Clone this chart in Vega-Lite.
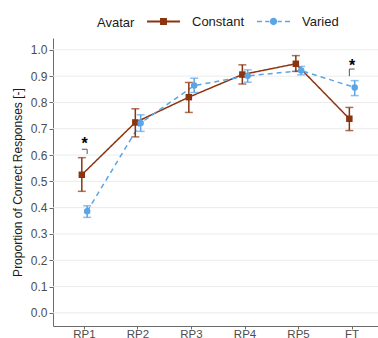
{
  "$schema": "https://vega.github.io/schema/vega-lite/v6.json",
  "autosize": "none",
  "width": 325,
  "height": 288,
  "padding": {"left": 53, "top": 38, "right": 0, "bottom": 12},
  "background": "white",
  "config": {
    "font": "Liberation Sans",
    "view": {"stroke": null},
    "axis": {"grid": false, "domainColor": "#6b6b6b", "tickColor": "#6b6b6b", "labelColor": "#4d4d4d", "labelFontSize": 12, "titleFontWeight": "normal", "titleColor": "#1a1a1a"},
    "legend": {"orient": "none", "legendY": -33, "direction": "horizontal", "titleOrient": "left", "titleFontSize": 13, "titleFontWeight": "normal", "titleColor": "#1a1a1a", "titlePadding": 12, "labelFontSize": 13, "labelColor": "#1a1a1a", "labelOffset": 12, "columnPadding": 12, "symbolSize": 1089, "symbolOpacity": 1, "symbolStrokeWidth": 0, "titleBaseline": "top", "titleAnchor": "middle"}
  },
  "datasets": {
    "main": [
      {"stage": "RP1", "series": "Constant", "mean": 0.525, "lo": 0.462, "hi": 0.59},
      {"stage": "RP2", "series": "Constant", "mean": 0.724, "lo": 0.669, "hi": 0.776},
      {"stage": "RP3", "series": "Constant", "mean": 0.82, "lo": 0.762, "hi": 0.876},
      {"stage": "RP4", "series": "Constant", "mean": 0.906, "lo": 0.87, "hi": 0.943},
      {"stage": "RP5", "series": "Constant", "mean": 0.947, "lo": 0.918, "hi": 0.978},
      {"stage": "FT", "series": "Constant", "mean": 0.738, "lo": 0.693, "hi": 0.781},
      {"stage": "RP1", "series": "Varied", "mean": 0.386, "lo": 0.363, "hi": 0.407},
      {"stage": "RP2", "series": "Varied", "mean": 0.722, "lo": 0.69, "hi": 0.753},
      {"stage": "RP3", "series": "Varied", "mean": 0.864, "lo": 0.838, "hi": 0.892},
      {"stage": "RP4", "series": "Varied", "mean": 0.901, "lo": 0.877, "hi": 0.924},
      {"stage": "RP5", "series": "Varied", "mean": 0.921, "lo": 0.905, "hi": 0.937},
      {"stage": "FT", "series": "Varied", "mean": 0.857, "lo": 0.826, "hi": 0.883}
    ],
    "stars": [
      {"stage": "RP1", "y": 0.652, "label": "*"},
      {"stage": "FT", "y": 0.95, "label": "*"}
    ],
    "brackets": [
      {"id": "b1", "stage": "RP1", "series": "Constant", "y": 0.622, "ord": 1},
      {"id": "b1", "stage": "RP1", "series": "Varied", "y": 0.622, "ord": 2},
      {"id": "b1", "stage": "RP1", "series": "Varied", "y": 0.604, "ord": 3},
      {"id": "b2", "stage": "FT", "series": "Constant", "y": 0.9, "ord": 1},
      {"id": "b2", "stage": "FT", "series": "Constant", "y": 0.927, "ord": 2},
      {"id": "b2", "stage": "FT", "series": "Varied", "y": 0.927, "ord": 3}
    ]
  },
  "encoding": {
    "y": {"type": "quantitative", "scale": {"domain": [-0.05, 1.045], "nice": false, "zero": false},
          "axis": {"title": "Proportion of Correct Responses [-]", "titleFontSize": 12, "values": [0, 0.1, 0.2, 0.3, 0.4, 0.5, 0.6, 0.7, 0.8, 0.9, 1.0], "format": ".1f", "tickSize": 4, "labelPadding": 2, "titlePadding": 6, "labelOverlap": false}}
  },
  "layer": [
    {
      "data": {"values": [{"v": 0}, {"v": 0.1}, {"v": 0.2}, {"v": 0.3}, {"v": 0.4}, {"v": 0.5}, {"v": 0.6}, {"v": 0.7}, {"v": 0.8}, {"v": 0.9}, {"v": 1.0}]},
      "mark": {"type": "rule", "color": "#ebebeb", "strokeWidth": 1},
      "encoding": {
        "y": {"field": "v", "type": "quantitative"}
      }
    },
    {
      "data": {"name": "main"},
      "mark": {"type": "line", "strokeWidth": 1.5},
      "encoding": {
        "x": {"field": "stage", "type": "nominal", "sort": ["RP1", "RP2", "RP3", "RP4", "RP5", "FT"],
              "scale": {"type": "band", "paddingInner": 0.8, "paddingOuter": 0.437, "align": 0.559},
              "axis": {"title": null, "labelAngle": 0, "tickSize": 3, "labelPadding": 8, "bandPosition": 0.5, "labelBaseline": "alphabetic", "labelFontSize": 11.5}},
        "xOffset": {"field": "series", "type": "nominal", "scale": {"type": "band", "domain": ["Constant", "Varied"], "paddingInner": 0, "paddingOuter": 0}},
        "y": {"field": "mean", "type": "quantitative"},
        "color": {"field": "series", "type": "nominal", "scale": {"domain": ["Constant", "Varied"], "range": ["#8b3510", "#5ba4e6"]}, "legend": null},
        "strokeDash": {"field": "series", "type": "nominal", "scale": {"domain": ["Constant", "Varied"], "range": [[1, 0], [5, 4]]}, "legend": null}
      }
    },
    {
      "data": {"name": "main"},
      "mark": {"type": "rule", "strokeWidth": 1.5},
      "encoding": {
        "x": {"field": "stage", "type": "nominal", "sort": ["RP1", "RP2", "RP3", "RP4", "RP5", "FT"]},
        "xOffset": {"field": "series", "type": "nominal"},
        "y": {"field": "lo", "type": "quantitative"},
        "y2": {"field": "hi"},
        "color": {"field": "series", "type": "nominal", "legend": null}
      }
    },
    {
      "data": {"name": "main"},
      "mark": {"type": "tick", "size": 8, "thickness": 1.5, "orient": "horizontal"},
      "encoding": {
        "x": {"field": "stage", "type": "nominal", "sort": ["RP1", "RP2", "RP3", "RP4", "RP5", "FT"]},
        "xOffset": {"field": "series", "type": "nominal"},
        "y": {"field": "lo", "type": "quantitative"},
        "color": {"field": "series", "type": "nominal", "legend": null}
      }
    },
    {
      "data": {"name": "main"},
      "mark": {"type": "tick", "size": 8, "thickness": 1.5, "orient": "horizontal"},
      "encoding": {
        "x": {"field": "stage", "type": "nominal", "sort": ["RP1", "RP2", "RP3", "RP4", "RP5", "FT"]},
        "xOffset": {"field": "series", "type": "nominal"},
        "y": {"field": "hi", "type": "quantitative"},
        "color": {"field": "series", "type": "nominal", "legend": null}
      }
    },
    {
      "data": {"name": "main"},
      "mark": {"type": "point", "filled": true, "opacity": 1, "size": 42},
      "encoding": {
        "x": {"field": "stage", "type": "nominal", "sort": ["RP1", "RP2", "RP3", "RP4", "RP5", "FT"]},
        "xOffset": {"field": "series", "type": "nominal"},
        "y": {"field": "mean", "type": "quantitative"},
        "color": {"field": "series", "type": "nominal", "legend": null},
        "shape": {"field": "series", "type": "nominal", "scale": {"domain": ["Constant", "Varied"], "range": ["square", "circle"]}, "legend": null}
      }
    },
    {
      "data": {"name": "brackets"},
      "mark": {"type": "line", "color": "#555555", "strokeWidth": 1},
      "encoding": {
        "x": {"field": "stage", "type": "nominal", "sort": ["RP1", "RP2", "RP3", "RP4", "RP5", "FT"]},
        "xOffset": {"field": "series", "type": "nominal"},
        "y": {"field": "y", "type": "quantitative"},
        "detail": {"field": "id"},
        "order": {"field": "ord"}
      }
    },
    {
      "data": {"name": "stars"},
      "mark": {"type": "text", "fontSize": 16, "fontWeight": "bold", "color": "#000000", "baseline": "middle", "dy": 3},
      "encoding": {
        "x": {"field": "stage", "type": "nominal", "sort": ["RP1", "RP2", "RP3", "RP4", "RP5", "FT"]},
        "y": {"field": "y", "type": "quantitative"},
        "text": {"field": "label"}
      }
    },
    {
      "data": {"name": "main"},
      "transform": [{"filter": "datum.series === 'Constant'"}],
      "mark": {"type": "point", "filled": true, "size": 0, "color": "#8b3510"},
      "encoding": {
        "x": {"field": "stage", "type": "nominal", "sort": ["RP1", "RP2", "RP3", "RP4", "RP5", "FT"]},
        "xOffset": {"field": "series", "type": "nominal"},
        "y": {"field": "mean", "type": "quantitative"},
        "shape": {"field": "series", "type": "nominal",
                  "scale": {"domain": ["Constant"], "range": [
                    "M-1,-0.06L1,-0.06L1,0.06L-1,0.06Z M-0.21,-0.21L0.21,-0.21L0.21,0.21L-0.21,0.21Z"
                  ]},
                  "legend": {"title": "Avatar", "legendX": 44, "symbolFillColor": "#8b3510"}}
      }
    },
    {
      "data": {"name": "main"},
      "transform": [{"filter": "datum.series === 'Varied'"}],
      "mark": {"type": "point", "filled": true, "size": 0, "color": "#5ba4e6"},
      "encoding": {
        "x": {"field": "stage", "type": "nominal", "sort": ["RP1", "RP2", "RP3", "RP4", "RP5", "FT"]},
        "xOffset": {"field": "series", "type": "nominal"},
        "y": {"field": "mean", "type": "quantitative"},
        "shape": {"field": "series", "type": "nominal",
                  "scale": {"domain": ["Varied"], "range": [
                    "M-1,-0.05L-0.7,-0.05L-0.7,0.05L-1,0.05Z M-0.5,-0.05L-0.25,-0.05L-0.25,0.05L-0.5,0.05Z M0.25,-0.05L0.5,-0.05L0.5,0.05L0.25,0.05Z M0.7,-0.05L1,-0.05L1,0.05L0.7,0.05Z M0,-0.22A0.22,0.22 0 1,1 0,0.22A0.22,0.22 0 1,1 0,-0.22Z"
                  ]},
                  "legend": {"title": null, "legendX": 204, "symbolFillColor": "#5ba4e6"}}
      }
    }
  ],
  "resolve": {"scale": {"shape": "independent"}, "legend": {"shape": "independent"}}
}
